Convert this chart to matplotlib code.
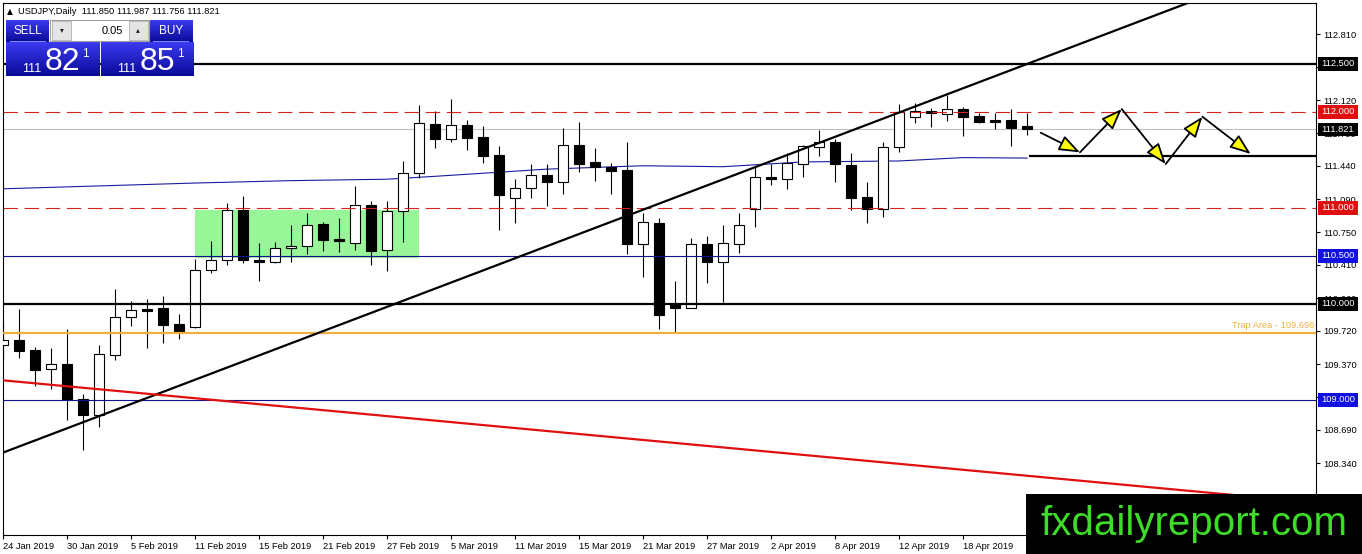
import numpy as np
import matplotlib
matplotlib.use("Agg")
import matplotlib.pyplot as plt
import matplotlib.transforms as mtransforms
from matplotlib.patches import Rectangle
from matplotlib.colors import LinearSegmentedColormap

# ---------------- data ----------------
date_labels = ["24 Jan 2019", "30 Jan 2019", "5 Feb 2019", "11 Feb 2019", "15 Feb 2019",
               "21 Feb 2019", "27 Feb 2019", "5 Mar 2019", "11 Mar 2019", "15 Mar 2019",
               "21 Mar 2019", "27 Mar 2019", "2 Apr 2019", "8 Apr 2019", "12 Apr 2019",
               "18 Apr 2019"]
label_every = 4

opens = [109.573, 109.625, 109.521, 109.320, 109.375, 109.007, 108.847, 109.472, 109.861, 109.948,
         109.958, 109.792, 109.757, 110.351, 110.458, 110.979, 110.458, 110.434, 110.580, 110.604,
         110.830, 110.674, 110.632, 111.031, 110.563, 110.969, 111.361, 111.875, 111.716, 111.865,
         111.740, 111.552, 111.101, 111.205, 111.341, 111.268, 111.656, 111.479, 111.430, 111.396,
         110.628, 110.844, 109.990, 109.962, 110.625, 110.441, 110.628, 110.990, 111.320, 111.299,
         111.458, 111.632, 111.684, 111.445, 111.115, 110.990, 111.632, 111.945, 112.007, 111.976,
         112.028, 111.958, 111.917, 111.917, 111.850]
highs = [109.802, 109.948, 109.549, 109.545, 109.740, 109.063, 109.573, 110.156, 110.034, 110.052,
         110.083, 109.896, 110.466, 110.656, 111.055, 111.128, 110.639, 110.649, 110.823, 110.945,
         110.857, 110.893, 111.229, 111.073, 111.073, 111.490, 112.073, 112.010, 112.135, 111.917,
         111.854, 111.646, 111.302, 111.458, 111.458, 111.830, 111.893, 111.622, 111.469, 111.688,
         110.945, 110.899, 110.240, 110.688, 110.711, 110.823, 110.945, 111.424, 111.458, 111.570,
         111.656, 111.813, 111.719, 111.576, 111.274, 111.684, 112.083, 112.090, 112.039, 112.177,
         112.049, 111.986, 111.986, 112.028, 111.987]
lows = [109.417, 109.438, 109.146, 109.118, 108.792, 108.479, 108.722, 109.417, 109.774, 109.545,
        109.597, 109.635, 109.750, 110.326, 110.406, 110.430, 110.243, 110.424, 110.440, 110.521,
        110.555, 110.542, 110.563, 110.406, 110.347, 110.649, 111.309, 111.628, 111.690, 111.604,
        111.472, 110.771, 110.847, 111.101, 111.024, 111.143, 111.378, 111.284, 111.149, 110.524,
        110.284, 109.736, 109.701, 109.955, 110.222, 110.018, 110.528, 110.805, 111.240, 111.198,
        111.326, 111.545, 111.274, 110.979, 110.840, 110.903, 111.580, 111.882, 111.840, 111.909,
        111.753, 111.882, 111.823, 111.649, 111.756]
closes = [109.625, 109.514, 109.313, 109.375, 109.007, 108.847, 109.476, 109.865, 109.934, 109.930,
          109.784, 109.708, 110.351, 110.458, 110.979, 110.455, 110.434, 110.580, 110.604, 110.823,
          110.667, 110.653, 111.028, 110.555, 110.969, 111.361, 111.882, 111.716, 111.861, 111.732,
          111.545, 111.139, 111.205, 111.341, 111.274, 111.656, 111.461, 111.424, 111.389, 110.628,
          110.851, 109.889, 109.962, 110.625, 110.441, 110.632, 110.823, 111.320, 111.299, 111.466,
          111.646, 111.691, 111.455, 111.107, 110.990, 111.632, 112.003, 112.007, 111.986, 112.028,
          111.951, 111.893, 111.899, 111.836, 111.821]

# moving average (vertices)
ma_idx = [0, 6, 12, 18, 24, 27, 34, 40, 45, 50, 56, 60, 64]
ma_vals = [111.20, 111.23, 111.26, 111.285, 111.30, 111.33, 111.405, 111.44, 111.43, 111.48,
           111.49, 111.525, 111.52]

# trend lines: (index, price) anchor pairs
up_trend = [(0, 108.452), (64, 112.5)]
down_trend = [(0, 109.205), (64, 108.211)]

# horizontal levels
lvl_black = [112.5, 110.0]
lvl_red_dash = [112.0, 111.0]
lvl_blue = [110.5, 109.0]
lvl_bid = 111.821
lvl_trap = 109.696
lvl_target = 111.545

# green box
box_x = [12, 26]
box_y = [110.48, 110.98]

# projected zigzag path
zig_x = [64.86, 67.31, 69.92, 72.67, 74.96, 77.98]
zig_y = [111.784, 111.58, 112.031, 111.458, 111.951, 111.563]

ytick_vals = [112.81, 112.47, 112.12, 111.78, 111.44, 111.09, 110.75, 110.41, 110.06,
              109.72, 109.37, 109.03, 108.69, 108.34, 108.00]

price_tags = [(112.5, "#000000"), (112.0, "#e01010"), (111.821, "#000000"), (111.0, "#e01010"),
              (110.5, "#1010e0"), (110.0, "#000000"), (109.0, "#1010e0")]

header = "USDJPY,Daily  111.850 111.987 111.756 111.821"

# ---------------- figure ----------------
W, H = 1362, 554
DPI = 100
plt.rcParams['font.family'] = ['Liberation Sans', 'DejaVu Sans']
fig = plt.figure(figsize=(W / DPI, H / DPI), dpi=DPI)
fig.patch.set_facecolor("white")

L, R, T, B = 3, 1316, 3, 535
ax = fig.add_axes([L / W, (H - B) / H, (R - L) / W, (B - T) / H])
px_per_bar = 16.0
px_per_price = 96.0
x0 = 0.0
x1 = (R - L) / px_per_bar
y_top = 112.5 + (64 - T) / px_per_price
y_bot = 112.5 - (B - 64) / px_per_price
ax.set_xlim(x0, x1)
ax.set_ylim(y_bot, y_top)

n = len(opens)
idx = np.arange(n)
o = np.array(opens); c = np.array(closes); hi = np.array(highs); lo = np.array(lows)

# green box (background)
ax.add_patch(Rectangle((box_x[0], box_y[0]), box_x[1] - box_x[0], box_y[1] - box_y[0],
                       facecolor="#98f598", edgecolor="none", zorder=1))

# moving average
ax.plot(ma_idx, ma_vals, color="#1a1aa0", lw=0.8, zorder=2)

# candles
ax.vlines(idx, lo, hi, color="black", lw=0.8, zorder=3)
bull = c >= o
bottoms = np.minimum(o, c)
heights = np.maximum(np.abs(c - o), 0.004)
ax.bar(idx, heights, bottom=bottoms, width=0.64,
       color=np.where(bull, "white", "black"), edgecolor="black", linewidth=0.8, zorder=4)

# horizontal lines
for lv in lvl_black:
    ax.axhline(lv, color="black", lw=1.6, zorder=5)
for lv in lvl_red_dash:
    ax.axhline(lv, color="#d82020", lw=0.8, linestyle=(0, (13, 6)), zorder=5)
for lv in lvl_blue:
    ax.axhline(lv, color="#101090", lw=0.8, zorder=5)
ax.axhline(lvl_bid, color="#c0c0c0", lw=0.8, zorder=2)
ax.axhline(lvl_trap, color="#f0b040", lw=1.6, zorder=5)
ax.hlines(lvl_target, 64.15, x1 + 1, color="black", lw=1.6, zorder=5)
ax.text(x1 - 0.1, lvl_trap + 0.03, "Trap Area - 109.696", color="#f0b040", fontsize=6.7,
        ha="right", va="bottom", zorder=6)

# trend lines
def extend(p, xa, xb):
    (ia, pa), (ib, pb) = p
    s = (pb - pa) / (ib - ia)
    return [xa, xb], [pa + s * (xa - ia), pa + s * (xb - ia)]

xs, ys = extend(up_trend, -1, 90)
ax.plot(xs, ys, color="black", lw=1.6, zorder=5)
xs, ys = extend(down_trend, -1, 90)
ax.plot(xs, ys, color="#e01010", lw=1.6, zorder=5)

# zigzag arrows
for i in range(len(zig_x) - 1):
    ax.annotate("", xy=(zig_x[i + 1], zig_y[i + 1]), xytext=(zig_x[i], zig_y[i]),
                arrowprops=dict(arrowstyle="-|>,head_length=0.85,head_width=0.32",
                                mutation_scale=15, fc="#ffff00", ec="black", lw=1.3,
                                shrinkA=0, shrinkB=0), zorder=7)

# axes styling
for s in ax.spines.values():
    s.set_color("black"); s.set_linewidth(0.8)
ax.yaxis.tick_right()
ax.set_yticks(ytick_vals)
ax.set_yticklabels([f"{v:.3f}" for v in ytick_vals])
ax.tick_params(axis="y", right=True, left=False, labelright=True, labelleft=False,
               length=3, width=0.8, labelsize=6.7, pad=2, direction="out")
ax.set_xticks(np.arange(0, len(date_labels) * label_every, label_every))
ax.set_xticklabels(date_labels, ha="left")
ax.tick_params(axis="x", length=3, width=0.8, labelsize=6.7, pad=2, direction="out")

# price tags on the right axis
bt = mtransforms.blended_transform_factory(fig.transFigure, ax.transData)
tag_h = 13 / px_per_price
for lv, col in price_tags:
    ax.add_patch(Rectangle((1318 / W, lv - tag_h / 2), 40 / W, tag_h, transform=bt,
                           facecolor=col, edgecolor="none", clip_on=False, zorder=10))
    ax.text(1321 / W, lv, f"{lv:.3f}", transform=bt, color="white", fontsize=6.7,
            ha="left", va="center", clip_on=False, zorder=11)

# ---------------- trading panel ----------------
def fx(x):
    return x / W

def fy(y):
    return 1 - y / H

def grad_box(x, y, w, h, top, bottom):
    a = fig.add_axes([fx(x), fy(y + h), w / W, h / H])
    cm = LinearSegmentedColormap.from_list("g", [top, bottom])
    a.imshow(np.linspace(0, 1, 64)[:, None], aspect="auto", cmap=cm,
             extent=[0, 1, 0, 1], interpolation="bilinear")
    a.set_axis_off()
    return a

fig.text(fx(7), fy(14.5), "\u25B2", fontsize=5.5, color="black", va="baseline", ha="left",
         family=["DejaVu Sans"])
fig.text(fx(18), fy(14.5), header, fontsize=6.7, color="black", va="baseline", ha="left")

blue_top, blue_bot = "#3a3af0", "#0a0a98"
grad_box(6, 20, 43, 22, blue_top, blue_bot)
grad_box(149, 20, 44, 22, blue_top, blue_bot)
grad_box(6, 42, 93, 34, blue_top, blue_bot)
grad_box(101, 42, 92, 34, blue_top, blue_bot)

# lot selector
fig.patches.append(Rectangle((fx(50), fy(41)), 99 / W, 21 / H, transform=fig.transFigure,
                             facecolor="white", edgecolor="#a0a0a0", lw=0.8, zorder=5))
fig.patches.append(Rectangle((fx(52), fy(39.5)), 19 / W, 18 / H, transform=fig.transFigure,
                             facecolor="#e4e4e4", edgecolor="#b0b0b0", lw=0.6, zorder=6))
fig.patches.append(Rectangle((fx(128.5), fy(39.5)), 19 / W, 18 / H, transform=fig.transFigure,
                             facecolor="#e4e4e4", edgecolor="#b0b0b0", lw=0.6, zorder=6))
fig.text(fx(61.5), fy(30), "\u25BE", fontsize=5.5, ha="center", va="center", color="#202020",
         family=["DejaVu Sans"], zorder=7)
fig.text(fx(138), fy(30), "\u25B4", fontsize=5.5, ha="center", va="center", color="#202020",
         family=["DejaVu Sans"], zorder=7)
fig.text(fx(123), fy(30.5), "0.05", fontsize=8, ha="right", va="center", color="black", zorder=7)

fig.text(fx(27.5), fy(31), "SELL", fontsize=8.5, ha="center", va="center", color="white", zorder=7)
fig.text(fx(171), fy(31), "BUY", fontsize=8.5, ha="center", va="center", color="white", zorder=7)
fig.patches.append(Rectangle((fx(10), fy(42)), 36 / W, 0.8 / H, transform=fig.transFigure,
                             facecolor="#8080ff", edgecolor="none", zorder=7))
fig.patches.append(Rectangle((fx(153), fy(42)), 36 / W, 0.8 / H, transform=fig.transFigure,
                             facecolor="#8080ff", edgecolor="none", zorder=7))

for bx, big in [(0, "82"), (95, "85")]:
    fig.text(fx(22 + bx), fy(71.5), "111", fontsize=9, color="white", va="baseline", ha="left", zorder=7)
    fig.text(fx(45 + bx), fy(70), big, fontsize=23, color="white", va="baseline", ha="left", zorder=7)
    fig.text(fx(82 + bx), fy(57), "1", fontsize=8.5, color="white", va="baseline", ha="left", zorder=7)

# ---------------- watermark ----------------
fig.patches.append(Rectangle((fx(1026), 0), (W - 1026) / W, (H - 494) / H,
                             transform=fig.transFigure, facecolor="black", edgecolor="none",
                             zorder=20))
fig.text(fx(1194), fy(524), "fxdailyreport.com", fontsize=29, color="#3cdc28",
         ha="center", va="center", zorder=21)

fig.savefig("out.png", dpi=DPI, facecolor="white")
